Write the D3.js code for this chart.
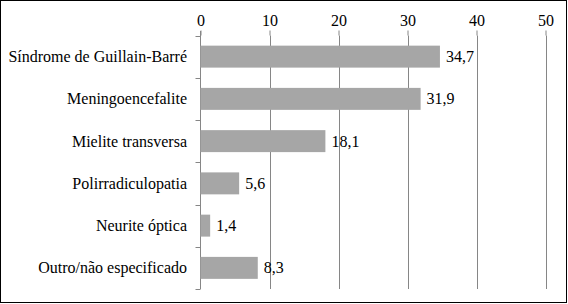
<!DOCTYPE html>
<html>
  <head>
    <meta charset="utf-8">
    <script src="https://cdn.jsdelivr.net/npm/d3@7/dist/d3.min.js"></script>
    <style>
      body { margin: 0; background: #fff; }
    </style>
  </head>
  <body>
    <svg width="568" height="304"></svg>
    <script>
      const categories = [
        "Síndrome de Guillain-Barré",
        "Meningoencefalite",
        "Mielite transversa",
        "Polirradiculopatia",
        "Neurite óptica",
        "Outro/não especificado"
      ];
      const values = [34.7, 31.9, 18.1, 5.6, 1.4, 8.3];
      const ticks = [0, 10, 20, 30, 40, 50];

      const serif = "Liberation Serif";
      const svg = d3.select("svg");
      const margin = { top: 35.5, left: 200.5, right: 22, bottom: 15 };
      const width = 568, height = 304;

      svg.append("rect")
        .attr("x", 0.5).attr("y", 0.5)
        .attr("width", width - 2).attr("height", height - 2)
        .attr("fill", "#fff").attr("stroke", "#000");

      const xScale = d3.scaleLinear().domain([0, 50]).range([margin.left, 545.5]);
      const yScale = d3.scaleBand()
        .domain(categories)
        .range([margin.top, 289])
        .paddingInner(0.48)
        .paddingOuter(0.24);

      // gridlines
      svg.append("g").selectAll("line")
        .data(ticks.slice(1))
        .join("line")
        .attr("x1", d => Math.round(xScale(d)) + 0.5)
        .attr("x2", d => Math.round(xScale(d)) + 0.5)
        .attr("y1", margin.top)
        .attr("y2", 289)
        .attr("stroke", "#868686");

      // top axis
      const xAxis = svg.append("g")
        .attr("transform", `translate(0,${margin.top})`)
        .call(d3.axisTop(xScale).tickValues(ticks).tickSize(5).tickPadding(5).tickFormat(d3.format("d")));
      xAxis.attr("font-family", serif).attr("font-size", 16);
      xAxis.select(".domain").remove();
      xAxis.selectAll(".tick line").attr("stroke", "#868686");
      xAxis.selectAll(".tick text").attr("fill", "#000");

      // category axis, ticks between bands
      svg.append("line")
        .attr("x1", margin.left).attr("x2", margin.left)
        .attr("y1", 31).attr("y2", 289)
        .attr("stroke", "#868686");
      const step = yScale.step();
      const bounds = d3.range(categories.length + 1).map(i => margin.top + i * step);
      svg.append("g").selectAll("line")
        .data(bounds)
        .join("line")
        .attr("x1", margin.left - 5).attr("x2", margin.left)
        .attr("y1", d => Math.round(d) + 0.5).attr("y2", d => Math.round(d) + 0.5)
        .attr("stroke", "#868686");

      svg.append("g").selectAll("text")
        .data(categories)
        .join("text")
        .attr("x", 187)
        .attr("y", d => yScale(d) + yScale.bandwidth() / 2)
        .attr("dy", "0.35em")
        .attr("text-anchor", "end")
        .attr("font-family", serif)
        .attr("font-size", 16)
        .text(d => d);

      // bars
      svg.append("g").selectAll("rect")
        .data(values)
        .join("rect")
        .attr("x", xScale(0))
        .attr("y", (d, i) => yScale(categories[i]))
        .attr("width", d => xScale(d) - xScale(0))
        .attr("height", yScale.bandwidth())
        .attr("fill", "#a6a6a6");

      // value labels
      svg.append("g").selectAll("text")
        .data(values)
        .join("text")
        .attr("x", d => xScale(d) + 6)
        .attr("y", (d, i) => yScale(categories[i]) + yScale.bandwidth() / 2)
        .attr("dy", "0.35em")
        .attr("font-family", serif)
        .attr("font-size", 16)
        .text(d => d3.format(".1f")(d).replace(".", ","));
    </script>
  </body>
</html>
